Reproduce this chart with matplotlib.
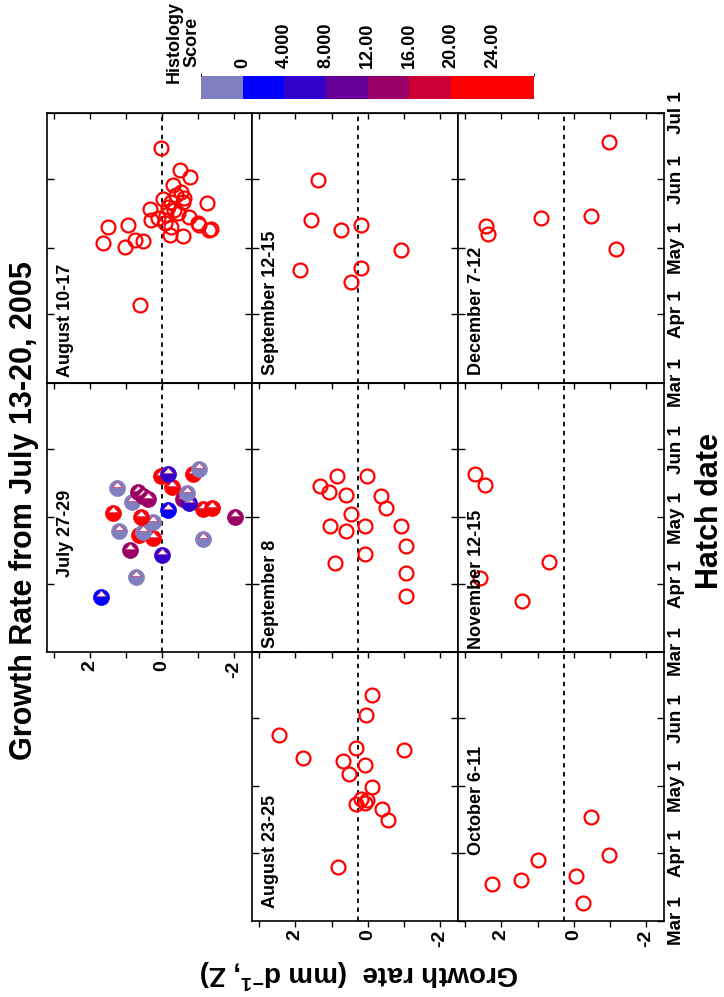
import numpy as np
import matplotlib
matplotlib.use("Agg")
import matplotlib.pyplot as plt
from matplotlib.path import Path
from matplotlib.colors import ListedColormap, BoundaryNorm
import matplotlib.colorbar as mcolorbar

plt.rcParams['font.family'] = ['Liberation Sans', 'DejaVu Sans']
plt.rcParams['font.weight'] = 'bold'
plt.rcParams['mathtext.fontset'] = 'custom'
plt.rcParams['mathtext.rm'] = 'Liberation Sans:bold'
plt.rcParams['mathtext.it'] = 'Liberation Sans:bold'
plt.rcParams['mathtext.bf'] = 'Liberation Sans:bold'

# ---------------------------------------------------------------------------
# Data: hatch date as day of year 2005 (Mar 1 = 60, Jul 1 = 182),
# growth rate as Z score (mm d-1).
# ---------------------------------------------------------------------------
date_ticks = [60, 91, 121, 152, 182]
date_labels = ["Mar 1", "Apr 1", "May 1", "Jun 1", "Jul 1"]
growth_ticks = [2, 0, -2]
growth_minor = [3, 1, -1]

aug10_hatch = [166.0, 156.2, 153.2, 149.5, 146.4, 144.9, 143.5, 143.1, 141.9, 141.9,
               141.2, 139.7, 138.5, 138.2, 136.7, 135.9, 134.4, 134.9, 133.7, 132.4,
               131.4, 132.2, 130.4, 131.4, 130.4, 129.1, 129.4, 126.9, 126.4, 123.1,
               121.6, 124.6, 124.3, 95.2]
aug10_growth = [0.02, -0.49, -0.78, -0.30, -0.53, -0.39, -0.62, -0.02, -0.25, -0.57,
                -1.26, -0.16, 0.34, -0.34, -0.44, -0.12, 0.11, -0.75, 0.30, -0.99,
                -1.03, -0.07, -0.25, 0.94, 1.49, -1.31, -1.36, -0.21, -0.59, 1.63,
                1.03, 0.75, 0.54, 0.62]

jul27_hatch = [85.0, 94.0, 106.1, 104.1, 111.1, 114.8, 112.9, 111.8, 114.4, 118.9,
               122.9, 121.1, 124.2, 121.1, 124.9, 125.2, 129.4, 127.5, 132.0, 127.9,
               132.7, 130.9, 129.4, 134.4, 135.0, 140.0, 140.7, 140.7, 143.0]
jul27_growth = [1.69, 0.72, 0.90, -0.01, -1.13, 1.21, 0.64, 0.26, 0.53, 0.26,
                1.37, 0.58, -0.16, -2.04, -1.13, -1.38, -0.58, -0.74, -0.70, 0.84,
                0.67, 0.53, 0.39, 1.26, -0.28, 0.02, -0.16, -0.86, -1.02]
jul27_score = [2, 0, 14, 6, 0, 0, 22, 22, 0, 0,
               22, 22, 2, 14, 22, 22, 14, 6, 0, 0,
               14, 14, 14, 0, 22, 22, 6, 22, 0]

sep12_hatch = [151.7, 133.7, 129.1, 131.4, 111.1, 112.0, 120.1, 105.6]
sep12_growth = [1.36, 1.58, 0.75, 0.19, 1.86, 0.19, -0.92, 0.47]

sep8_hatch = [139.7, 135.2, 132.5, 131.2, 139.7, 130.7, 125.3, 122.6, 117.2, 114.9,
              117.2, 117.2, 108.2, 104.6, 100.5, 96.0, 85.6]
sep8_growth = [0.86, 1.31, 1.08, 0.61, 0.03, -0.36, -0.50, 0.47, 1.03, 0.61,
               0.08, -0.92, -1.06, 0.08, 0.89, -1.06, -1.06]

aug23_hatch = [162.4, 153.5, 144.5, 138.6, 137.6, 133.7, 132.6, 130.6, 126.7, 120.7,
               115.4, 114.7, 112.9, 113.5, 110.6, 105.6, 84.5]
aug23_growth = [-0.13, 0.04, 2.46, 0.33, -1.01, 1.80, 0.69, 0.07, 0.52, -0.13,
                0.19, 0.01, 0.33, 0.06, -0.39, -0.55, 0.82]

dec7_hatch = [131.1, 127.5, 134.7, 135.6, 168.9, 120.5]
dec7_growth = [2.42, 2.36, 0.89, -0.47, -0.97, -1.17]

nov12_hatch = [140.9, 135.9, 93.4, 83.0, 100.7]
nov12_growth = [2.72, 2.44, 2.58, 1.44, 0.69]

oct6_hatch = [76.7, 78.5, 87.6, 80.3, 68.1, 107.0, 89.8]
oct6_growth = [2.25, 1.47, 1.00, -0.06, -0.25, -0.47, -0.97]

# dashed reference line per column of panels (Z)
reference_z = [0.0, 0.28, 0.28]

# histology score classes
score_levels = [0, 4, 8, 12, 16, 20, 24]
score_colors = ['#8080c0', '#0000ff', '#3300cc', '#660099', '#990066', '#cc0033',
                '#ff0000', '#ff0000']

# ---------------------------------------------------------------------------
W, H = 724, 997
fig = plt.figure(figsize=(W / 100, H / 100), dpi=100)


def box(x0, x1, y0, y1):
    return [x0 / W, 1 - y1 / H, (x1 - x0) / W, (y1 - y0) / H]


cols = [(47, 252), (252, 458), (458, 664)]
rows = [(113, 383), (383, 652), (652, 921)]

# (title, column, row, hatch, growth, label offset from panel bottom in axes fraction)
panels = [
    ("August 10-17", 0, 0, aug10_hatch, aug10_growth, 0.022),
    ("July 27-29", 0, 1, jul27_hatch, jul27_growth, 0.28),
    ("September 12-15", 1, 0, sep12_hatch, sep12_growth, 0.03),
    ("September 8", 1, 1, sep8_hatch, sep8_growth, 0.015),
    ("August 23-25", 1, 2, aug23_hatch, aug23_growth, 0.05),
    ("December 7-12", 2, 0, dec7_hatch, dec7_growth, 0.03),
    ("November 12-15", 2, 1, nov12_hatch, nov12_growth, 0.01),
    ("October 6-11", 2, 2, oct6_hatch, oct6_growth, 0.245),
]

# white triangle drawn in the upper half of the filled circles
tri = Path([(0, -1), (-0.62, 0.12), (0.62, 0.12), (0, 0.82), (-0.62, 0.12)],
           [Path.MOVETO, Path.MOVETO, Path.LINETO, Path.LINETO, Path.CLOSEPOLY])

label_cells = {(0, 1), (1, 2), (2, 2)}

for title, c, r, hatch, growth, loff in panels:
    ax = fig.add_axes(box(*cols[c], *rows[r]))
    ax.set_xlim(3.2, -2.5)
    ax.set_ylim(date_ticks[0], date_ticks[-1])
    for s in ax.spines.values():
        s.set_linewidth(1.2)

    ax.set_xticks(growth_ticks)
    ax.set_xticks(growth_minor, minor=True)
    ax.set_xticklabels([str(t) for t in growth_ticks], rotation=90)
    ax.tick_params(axis='x', which='both', direction='out', length=4, width=1,
                   labelsize=14, pad=2, labelbottom=(c, r) in label_cells)
    top = ax.secondary_xaxis('top')
    top.set_xticks(growth_ticks + growth_minor)
    top.tick_params(direction='in', length=4, width=1, labeltop=False)

    if c == 2:
        n = 5 if r == 0 else 4
        ax.set_yticks(date_ticks[:n])
        ax.set_yticklabels(date_labels[:n], rotation=90, va='center')
    else:
        ax.set_yticks(date_ticks[1:4])
        ax.set_yticklabels([])
    ax.tick_params(axis='y', which='both', direction='in', left=True, right=True,
                   length=5, width=1, labelleft=False, labelright=(c == 2),
                   labelsize=13.5, pad=3)

    ax.axvline(reference_z[c], color='black', ls=(0, (2.5, 2.5)), lw=1.3, zorder=1)

    if title == "July 27-29":
        idx = np.digitize(jul27_score, score_levels, right=True)
        for g, h, k in zip(growth, hatch, idx):
            col = score_colors[k]
            ax.plot(g, h, 'o', ms=11.5, mfc=col, mec=col, mew=0.5, zorder=3)
            ax.plot(g, h, marker=tri, ms=11.5, mfc='white', mec='#d0306a',
                    mew=0.5, ls='none', zorder=3)
    else:
        ax.plot(growth, hatch, 'o', ms=10, mfc='none', mec='#ff0000', mew=1.6,
                ls='none', zorder=3)

    ax.text(0.05, loff, title, transform=ax.transAxes, rotation=90,
            rotation_mode='anchor', ha='left', va='top', fontsize=13,
            fontweight='bold')

# colour key
cax = fig.add_axes(box(201, 534, 76, 99))
bounds = [-4] + score_levels + [28]
cmap = ListedColormap(score_colors)
norm = BoundaryNorm(bounds, cmap.N)
cb = mcolorbar.ColorbarBase(cax, cmap=cmap, norm=norm, orientation='horizontal',
                            ticks=score_levels)
cb.outline.set_visible(False)
cax.xaxis.set_ticks_position('top')
cax.set_xticklabels(["0", "4.000", "8.000", "12.00", "16.00", "20.00", "24.00"],
                    rotation=90)
cax.tick_params(length=0, labelsize=13, pad=6)
fig.text(183 / W, 1 - 42 / H, "Histology\nScore", rotation=90, ha='center',
         va='center', multialignment='center', fontsize=13, fontweight='bold',
         linespacing=1.0)

fig.text(24 / W, 1 - 511 / H, "Growth Rate from July 13-20, 2005", rotation=90,
         ha='center', va='center', fontsize=22, fontweight='bold')
fig.text(710 / W, 1 - 511 / H, "Hatch date", rotation=90, ha='center',
         va='center', fontsize=22, fontweight='bold')
fig.text(359 / W, 1 - 974 / H, "Growth rate  (mm d$^{-1}$, Z)", rotation=180,
         ha='center', va='center', fontsize=20, fontweight='bold')

fig.savefig("out.png", dpi=100)
